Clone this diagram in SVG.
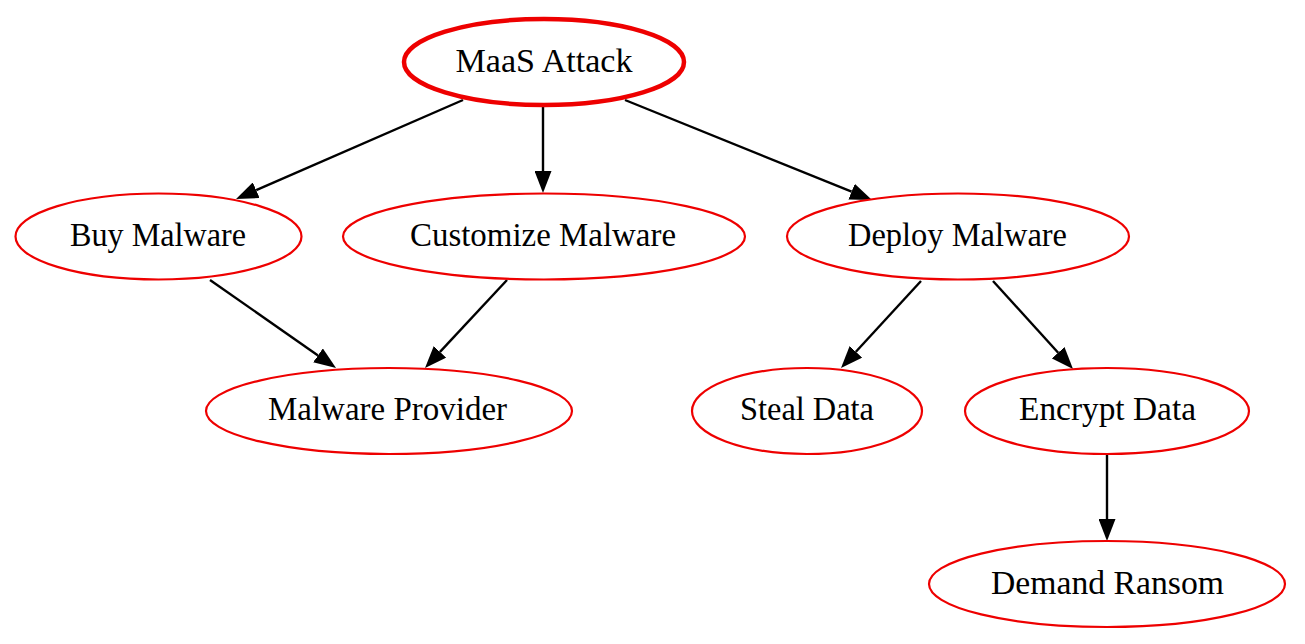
<svg xmlns="http://www.w3.org/2000/svg" width="1305" height="644" viewBox="0 0 1305 644">
<style>
.node ellipse{fill:#fff;stroke:#e00;stroke-width:2.2}
.root ellipse{stroke-width:4.5}
.node text{font-family:"Liberation Serif","Times New Roman",serif;font-size:33px;fill:#000;text-anchor:middle}
.edges line{stroke:#000;stroke-width:2.4;marker-end:url(#ah)}
</style>
<defs>
<marker id="ah" markerUnits="userSpaceOnUse" markerWidth="22" markerHeight="17" viewBox="0 0 22 17" refX="0" refY="8.5" orient="auto">
<path d="M0,0 L22,8.5 L0,17 z" fill="#000"/>
</marker>
</defs>
<rect width="1305" height="644" fill="#fff"/>
<g class="edges" id="edges">
<line x1="463" y1="100" x2="256.2" y2="190.2"/>
<line x1="543" y1="107" x2="543" y2="171"/>
<line x1="625" y1="100" x2="851.6" y2="191.7"/>
<line x1="210" y1="280" x2="318" y2="355.4"/>
<line x1="507" y1="280" x2="440" y2="351.9"/>
<line x1="921" y1="281" x2="855.9" y2="351.8"/>
<line x1="993" y1="281" x2="1058.2" y2="352.7"/>
<line x1="1107" y1="455" x2="1107" y2="519"/>
</g>
<g class="node root" id="maas"><ellipse cx="544" cy="62" rx="140" ry="43"/><text x="544" y="72" textLength="177" lengthAdjust="spacingAndGlyphs">MaaS Attack</text></g>
<g class="node" id="buy"><ellipse cx="158.5" cy="236.5" rx="143" ry="43"/><text x="158" y="246" textLength="176" lengthAdjust="spacingAndGlyphs">Buy Malware</text></g>
<g class="node" id="customize"><ellipse cx="544" cy="236.5" rx="201" ry="43"/><text x="543" y="246" textLength="266" lengthAdjust="spacingAndGlyphs">Customize Malware</text></g>
<g class="node" id="deploy"><ellipse cx="958" cy="236.5" rx="171" ry="43"/><text x="957.5" y="246" textLength="219" lengthAdjust="spacingAndGlyphs">Deploy Malware</text></g>
<g class="node" id="provider"><ellipse cx="389" cy="411" rx="183" ry="43"/><text x="387.5" y="420" textLength="239" lengthAdjust="spacingAndGlyphs">Malware Provider</text></g>
<g class="node" id="steal"><ellipse cx="807" cy="411" rx="115" ry="43"/><text x="807" y="420" textLength="134" lengthAdjust="spacingAndGlyphs">Steal Data</text></g>
<g class="node" id="encrypt"><ellipse cx="1107" cy="411" rx="142" ry="43"/><text x="1107.5" y="420" textLength="177" lengthAdjust="spacingAndGlyphs">Encrypt Data</text></g>
<g class="node" id="demand"><ellipse cx="1107" cy="584" rx="178" ry="43"/><text x="1107.5" y="594" textLength="233" lengthAdjust="spacingAndGlyphs">Demand Ransom</text></g>
</svg>
